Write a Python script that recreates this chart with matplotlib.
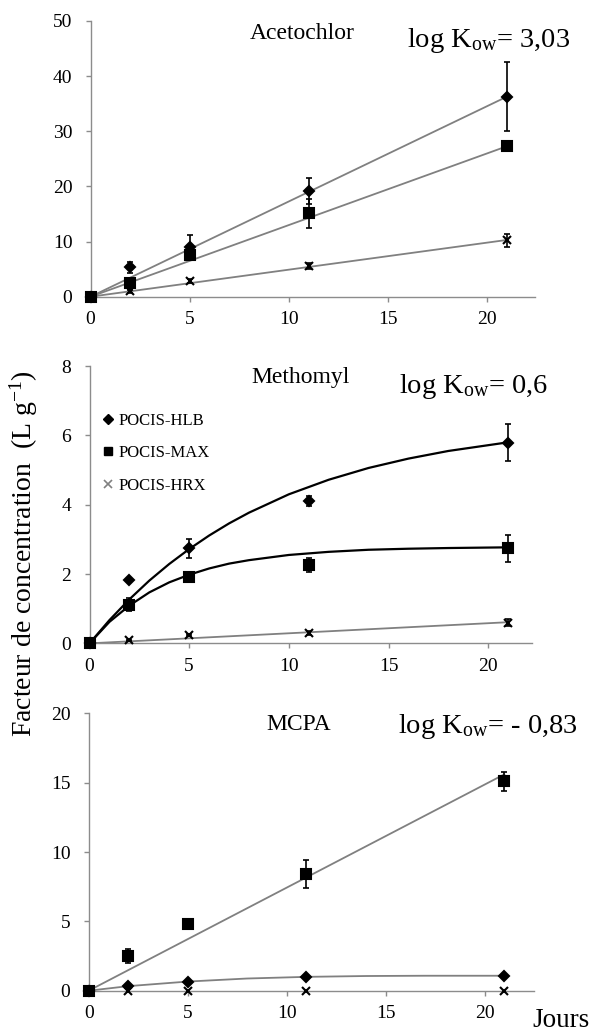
import matplotlib
matplotlib.use('Agg')
import matplotlib.pyplot as plt
from matplotlib.lines import Line2D

plt.rcParams['font.family'] = ['Liberation Serif', 'DejaVu Serif']
plt.rcParams['mathtext.fontset'] = 'custom'
plt.rcParams['mathtext.rm'] = 'Liberation Serif'
plt.rcParams['mathtext.it'] = 'Liberation Serif:italic'

days = [0, 2, 5, 11, 21]

# Acetochlor
ace_hlb = [0, 5.3, 9.0, 19.2, 36.3]
ace_hlb_err = [0, 1.0, 2.2, 2.4, 6.2]
ace_max = [0, 2.4, 7.5, 15.1, 27.3]
ace_max_err = [0, 0.6, 0.6, 2.6, 0.8]
ace_hrx = [0, 1.0, 2.9, 5.6, 10.2]
ace_hrx_err = [0, 0.3, 0.4, 0.5, 1.2]
ace_fit_days = [0, 21]
ace_hlb_fit = [0, 36.3]
ace_max_fit = [0, 27.3]
ace_hrx_fit = [0, 10.3]

# Methomyl
met_hlb = [0, 1.82, 2.74, 4.11, 5.79]
met_hlb_err = [0, 0.04, 0.28, 0.15, 0.53]
met_max = [0, 1.12, 1.92, 2.25, 2.74]
met_max_err = [0, 0.2, 0.1, 0.2, 0.4]
met_hrx = [0, 0.09, 0.25, 0.30, 0.60]
met_hrx_err = [0, 0.02, 0.03, 0.05, 0.1]
met_fit_days = [0, 1, 2, 3, 4, 5, 6, 7, 8, 10, 12, 14, 16, 18, 21]
met_hlb_fit = [0, 0.67, 1.27, 1.81, 2.29, 2.72, 3.11, 3.46, 3.77, 4.30, 4.72, 5.06, 5.33, 5.55, 5.80]
met_max_fit = [0, 0.62, 1.09, 1.47, 1.76, 1.98, 2.16, 2.30, 2.40, 2.55, 2.64, 2.70, 2.73, 2.75, 2.77]
met_hrx_fit_days = [0, 21]
met_hrx_fit = [0, 0.61]

# MCPA
mcpa_hlb = [0, 0.35, 0.63, 1.02, 1.04]
mcpa_max = [0, 2.5, 4.82, 8.4, 15.1]
mcpa_max_err = [0, 0.5, 0.15, 1.0, 0.7]
mcpa_hrx = [0, 0, 0, 0, 0]
mcpa_max_fit_days = [0, 21]
mcpa_max_fit = [0, 15.6]
mcpa_hlb_fit_days = [0, 2, 5, 8, 11, 14, 17, 21]
mcpa_hlb_fit = [0, 0.33, 0.66, 0.88, 1.0, 1.06, 1.08, 1.08]

legend_labels = ['POCIS-HLB', 'POCIS-MAX', 'POCIS-HRX']

GRAY = '#808080'
SPINE = '#8c8c8c'

fig = plt.figure(figsize=(5.92, 10.32), dpi=100)
ax1 = fig.add_axes([0.153, 0.7125, 0.7507, 0.2672])
ax2 = fig.add_axes([0.1512, 0.3766, 0.7475, 0.2687])
ax3 = fig.add_axes([0.1498, 0.0400, 0.7522, 0.2688])


def style(ax, xmax, ymax, ystep):
    ax.set_xlim(0, xmax)
    ax.set_ylim(0, ymax)
    ax.set_xticks([0, 5, 10, 15, 20])
    ax.set_yticks(list(range(0, ymax + 1, ystep)))
    for s in ['top', 'right']:
        ax.spines[s].set_visible(False)
    for s in ['left', 'bottom']:
        ax.spines[s].set_color(SPINE)
        ax.spines[s].set_linewidth(1.0)
    ax.tick_params(direction='out', length=3.6, width=1, color=SPINE,
                   labelsize=14)
    ax.tick_params(axis='x', pad=7)
    ax.tick_params(axis='y', pad=9.5)


def points(ax, y, err, marker, ms):
    if err is not None:
        ax.errorbar(days, y, yerr=err, fmt='none', ecolor='black',
                    elinewidth=1.2, capsize=2.5, capthick=1.2, zorder=3,
                    clip_on=False)
    ax.plot(days, y, ls='none', marker=marker, ms=ms, color='black',
            mew=1.5, zorder=4, clip_on=False)


# Acetochlor
style(ax1, 22.4, 50, 10)
ax1.plot(ace_fit_days, ace_hlb_fit, color=GRAY, lw=1.3, zorder=2)
ax1.plot(ace_fit_days, ace_max_fit, color=GRAY, lw=1.3, zorder=2)
ax1.plot(ace_fit_days, ace_hrx_fit, color=GRAY, lw=1.3, zorder=2)
points(ax1, ace_hrx, ace_hrx_err, 'x', 6)
points(ax1, ace_hlb, ace_hlb_err, 'D', 5.5)
points(ax1, ace_max, ace_max_err, 's', 6.5)
ax1.text(0.476, 0.956, 'Acetochlor', transform=ax1.transAxes,
         ha='center', va='center', fontsize=17)
ax1.text(0.712, 0.93, r'log K$_{\mathrm{ow}}$= 3,03', transform=ax1.transAxes,
         ha='left', va='center', fontsize=20.5)

# Methomyl
style(ax2, 22.2, 8, 2)
ax2.plot(met_fit_days, met_hlb_fit, color='black', lw=1.6, zorder=2)
ax2.plot(met_fit_days, met_max_fit, color='black', lw=1.6, zorder=2)
ax2.plot(met_hrx_fit_days, met_hrx_fit, color=GRAY, lw=1.3, zorder=2)
points(ax2, met_hrx, met_hrx_err, 'x', 6)
points(ax2, met_hlb, met_hlb_err, 'D', 5.5)
points(ax2, met_max, met_max_err, 's', 6.5)
ax2.text(0.478, 0.957, 'Methomyl', transform=ax2.transAxes,
         ha='center', va='center', fontsize=17)
ax2.text(0.699, 0.925, r'log K$_{\mathrm{ow}}$= 0,6', transform=ax2.transAxes,
         ha='left', va='center', fontsize=20.5)
handles = [
    Line2D([], [], ls='none', marker='D', ms=5, color='black'),
    Line2D([], [], ls='none', marker='s', ms=6, color='black'),
    Line2D([], [], ls='none', marker='x', ms=6, color=GRAY, mew=1.2),
]
ax2.legend(handles, legend_labels, loc='upper left',
           bbox_to_anchor=(0.029, 0.832), frameon=False, fontsize=12,
           handlelength=0.7, handletextpad=0.25, labelspacing=1.0,
           borderaxespad=0, borderpad=0)

# MCPA
style(ax3, 22.5, 20, 5)
ax3.plot(mcpa_max_fit_days, mcpa_max_fit, color=GRAY, lw=1.3, zorder=2)
ax3.plot(mcpa_hlb_fit_days, mcpa_hlb_fit, color=GRAY, lw=1.3, zorder=2)
points(ax3, mcpa_hrx, None, 'x', 6)
points(ax3, mcpa_hlb, None, 'D', 5.5)
points(ax3, mcpa_max, mcpa_max_err, 's', 6.5)
ax3.text(0.472, 0.958, 'MCPA', transform=ax3.transAxes,
         ha='center', va='center', fontsize=17)
ax3.text(0.695, 0.951, r'log K$_{\mathrm{ow}}$= - 0,83', transform=ax3.transAxes,
         ha='left', va='center', fontsize=20.5)

fig.text(31.7 / 592, 1 - 554 / 1032, r'Facteur de concentration  (L g$^{\mathrm{-1}}$)',
         rotation=90, rotation_mode='anchor', ha='center', va='baseline',
         fontsize=20)
fig.text(532 / 592, 5 / 1032, 'Jours', ha='left', va='baseline', fontsize=19.5)

fig.savefig('out.png', dpi=100)
